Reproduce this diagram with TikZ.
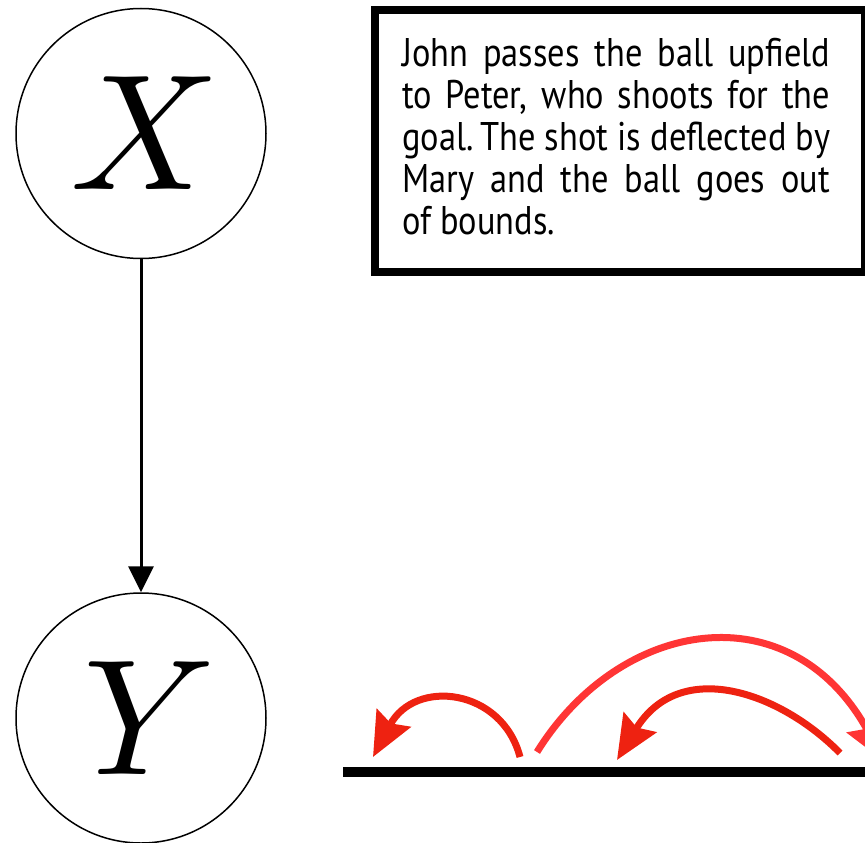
\documentclass[tikz,border=0pt]{standalone}
\usepackage{fontspec}
\usepackage{graphicx}
\newfontfamily\boxfont[FakeStretch=0.86]{PT Sans}
\usetikzlibrary{arrows.meta}
\definecolor{redA}{HTML}{EE2211}
\definecolor{redB}{HTML}{FF3535}
\tikzset{
  var/.style={circle, draw, line width=1.5pt, minimum size=250pt, inner sep=0pt},
  textbox/.style={draw, line width=8pt, minimum width=490pt, minimum height=262pt, anchor=north west},
  pass/.style={line width=7pt, -{Stealth[length=44pt,width=38pt,inset=6pt]}},
}
\newcommand{\fullline}[1]{\makebox[428pt][s]{#1}}
\begin{document}
\begin{tikzpicture}[x=1pt,y=-1pt]
\useasboundingbox (0,0) rectangle (865,843);
\node[var] (X) at (141,133.5) {\hspace*{8pt}\raisebox{-3pt}{\scalebox{16.5}{$X$}}};
\node[var] (Y) at (141,718) {\hspace*{18pt}\raisebox{-3pt}{\scalebox{16.5}{$Y$}}};
\draw[line width=3pt, -{Triangle[length=26pt,width=25pt]}] (X) -- (Y);
\node[textbox] (box) at (371,6) {};
\node[align=left, inner sep=0pt, anchor=north west, font=\boxfont\fontsize{40}{42}\selectfont] (desc) at (402,38)
  {\fullline{John passes the ball upfield}\\
   \fullline{to Peter, who shoots for the}\\
   \fullline{goal.\,The shot is deflected by}\\
   \fullline{Mary and the ball goes out}\\
   of bounds.};
\coordinate (g1) at (343,772);
\coordinate (g2) at (870,772);
\draw[line width=10pt] (g1) -- (g2);
\coordinate (a1s) at (520,757);
\coordinate (a1e) at (373,757);
\coordinate (a2s) at (537,752);
\coordinate (a2e) at (885,762);
\coordinate (a3s) at (840,753);
\coordinate (a3e) at (617,760);
\draw[pass, redA] (a1s) .. controls (502,688) and (415,678) .. (a1e);
\draw[pass, redB] (a2s) .. controls (620,618) and (790,590) .. (a2e);
\draw[pass, redA] (a3s) .. controls (780,692) and (680,657) .. (a3e);
\end{tikzpicture}
\end{document}
